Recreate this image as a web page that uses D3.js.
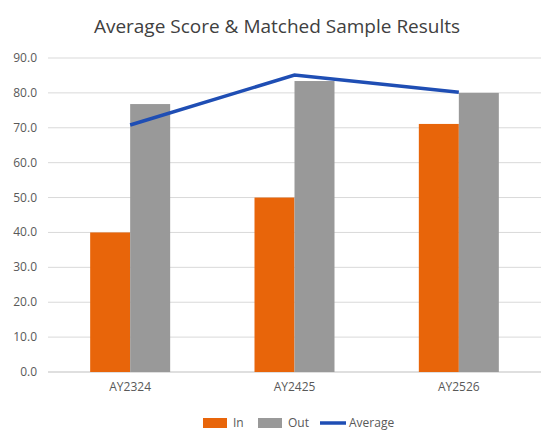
<!DOCTYPE html>
<html><head><meta charset="utf-8">
<script src="https://cdn.jsdelivr.net/npm/d3@7"></script>
<style>body{margin:0;background:#fff;font-family:"Open Sans","Liberation Sans",sans-serif}</style>
</head><body><svg id="c" width="555" height="444"></svg>
<script>
const categories=["AY2324","AY2425","AY2526"];
const inVals=[40,50,71.1];
const outVals=[76.8,83.4,80.0];
const avgVals=[70.8,85.1,80.2];
const yTicks=[0,10,20,30,40,50,60,70,80,90];
const svg=d3.select("#c");
const x=d3.scaleBand().domain(categories).range([48,541]).paddingInner(0).paddingOuter(0);
const y=d3.scaleLinear().domain([0,90]).range([372,58]);
svg.append("text").attr("x",277).attr("y",33).attr("text-anchor","middle").attr("font-size",19).attr("fill","#404040").text("Average Score & Matched Sample Results");
yTicks.forEach(t=>{
  svg.append("line").attr("x1",48).attr("x2",541).attr("y1",y(t)).attr("y2",y(t)).attr("stroke",t===0?"#bfbfbf":"#d9d9d9");
  svg.append("text").attr("x",37).attr("y",y(t)+4).attr("text-anchor","end").attr("font-size",12).attr("fill","#595959").text(t.toFixed(1));
});
const bw=40;
categories.forEach((c,i)=>{
  const cx=x(c)+x.bandwidth()/2;
  svg.append("rect").attr("x",cx-bw).attr("y",y(inVals[i])).attr("width",bw).attr("height",y(0)-y(inVals[i])).attr("fill","#e8650a");
  svg.append("rect").attr("x",cx).attr("y",y(outVals[i])).attr("width",bw).attr("height",y(0)-y(outVals[i])).attr("fill","#999999");
  svg.append("text").attr("x",cx).attr("y",391).attr("text-anchor","middle").attr("font-size",12).attr("fill","#595959").text(c);
});
const line=d3.line().x((d,i)=>x(categories[i])+x.bandwidth()/2).y(d=>y(d));
svg.append("path").attr("d",line(avgVals)).attr("fill","none").attr("stroke","#1f4eb4").attr("stroke-width",3.5);
const lg=svg.append("g").attr("font-size",12).attr("fill","#595959");
lg.append("rect").attr("x",203).attr("y",418).attr("width",24).attr("height",10).attr("fill","#e8650a");
lg.append("text").attr("x",233).attr("y",427).text("In");
lg.append("rect").attr("x",258).attr("y",418).attr("width",24).attr("height",10).attr("fill","#999999");
lg.append("text").attr("x",288).attr("y",427).text("Out");
lg.append("line").attr("x1",320).attr("x2",346).attr("y1",423).attr("y2",423).attr("stroke","#1f4eb4").attr("stroke-width",3.5);
lg.append("text").attr("x",349).attr("y",427).text("Average");
</script></body></html>
